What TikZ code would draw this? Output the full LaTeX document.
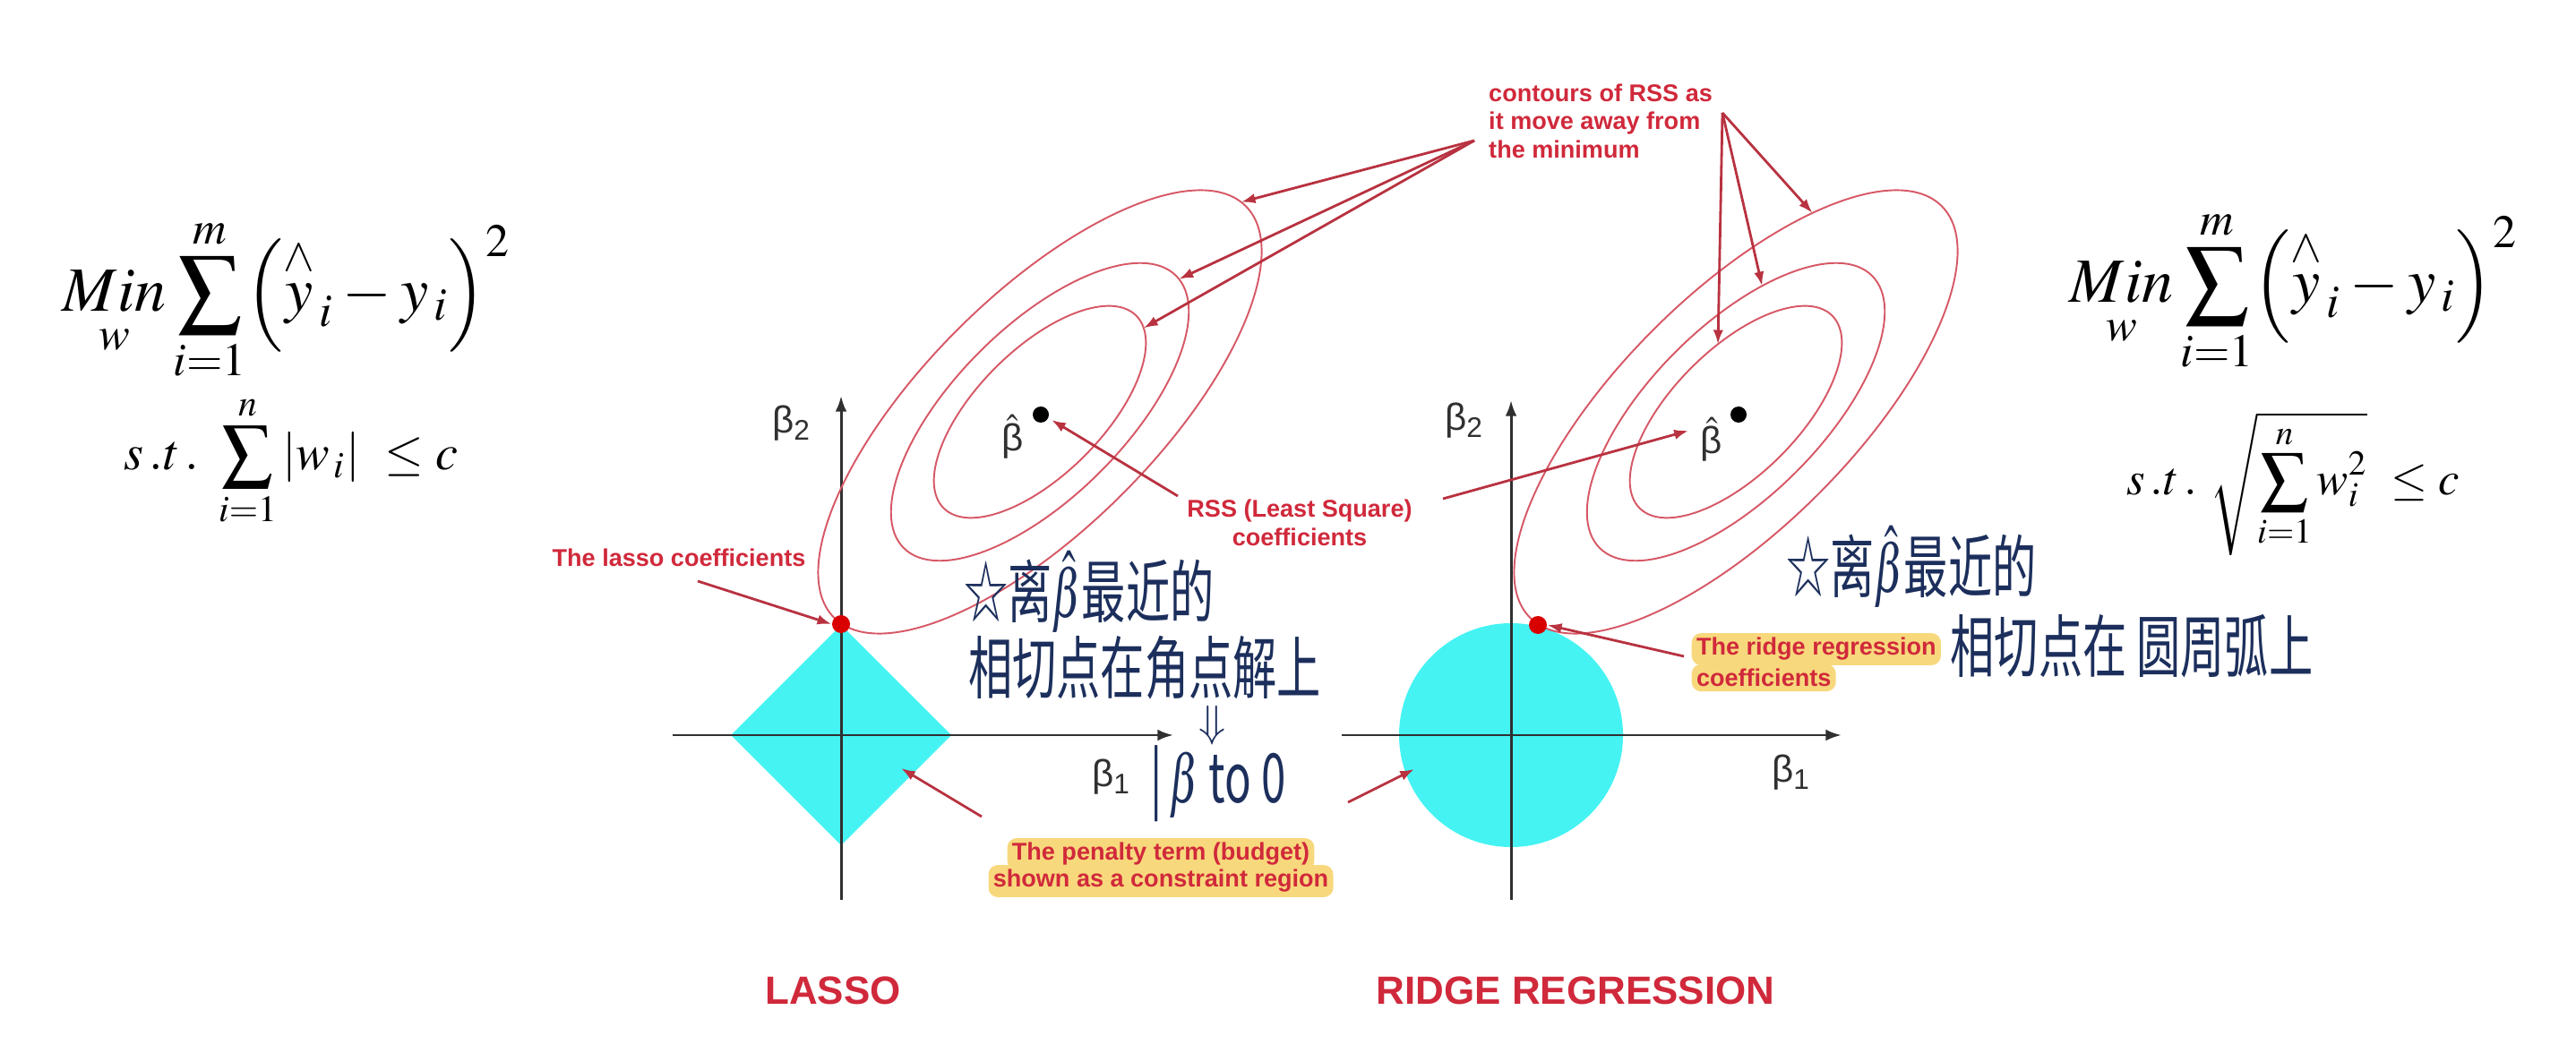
\documentclass[tikz,border=0pt]{standalone}
\usepackage{amsmath}
\usepackage{graphicx}
\usepackage{mathptmx}
\usepackage[no-math]{fontspec}
\setmainfont{Liberation Sans}
\newfontfamily\cjk{Noto Sans CJK SC}
\usetikzlibrary{arrows.meta,calc}
\definecolor{islred}{HTML}{D0293B}
\definecolor{islarrow}{HTML}{B83240}
\definecolor{islcont}{HTML}{D65866}
\definecolor{islcyan}{HTML}{45F3F3}
\definecolor{islhl}{HTML}{F8D87C}
\definecolor{inkblue}{HTML}{1C2F5C}
\definecolor{axgrey}{HTML}{303030}
\newcommand{\hw}[1]{\scalebox{1}[1.55]{#1}}

\begin{document}
\begin{tikzpicture}[
  lbl/.style={font=\fontsize{7.7}{9}\selectfont\bfseries, text=islred, inner sep=1pt},
  hl/.style={lbl, fill=islhl, rounded corners=3pt, inner sep=1.5pt},
  ax/.style={-{Latex[length=5pt,width=3.6pt]}, axgrey, line width=0.85pt},
  pt/.style={-{Latex[length=4.5pt,width=3.2pt]}, islarrow, line width=0.8pt},
  rssline/.style={islcont, line width=0.55pt},
  blbl/.style={font=\fontsize{12}{14}\selectfont, text=axgrey, inner sep=0pt},
  ink/.style={font=\cjk\fontsize{14}{17}\selectfont, text=inkblue, inner sep=0pt},
  panel/.style={font=\fontsize{12.5}{15}\selectfont\bfseries, text=islred},
  obj/.style={inner sep=0pt},
  dot/.style={circle, fill=black, inner sep=0pt, minimum size=1.8mm},
  reddot/.style={circle, fill=red!85!black, inner sep=0pt, minimum size=2mm},
]
\useasboundingbox (0,0) rectangle (28.76,-11.76);

% objectives
\node[obj] (lossL) at (3.20,-3.35) {\fontsize{20}{24}\selectfont
  $\displaystyle \underset{w}{Min}\sum_{i=1}^{m}\Bigl(\overset{\wedge}{y}_{\,i}-y_{\,i}\Bigr)^{2}$};
\node[obj] (consL) at (3.25,-5.15) {\fontsize{16}{19}\selectfont
  $s\,.t\,.\ \displaystyle\sum_{i=1}^{n}\,\lvert w_{\,i}\rvert\ \le c$};
\node[obj] (lossR) at (25.61,-3.25) {\fontsize{20}{24}\selectfont
  $\displaystyle \underset{w}{Min}\sum_{i=1}^{m}\Bigl(\overset{\wedge}{y}_{\,i}-y_{\,i}\Bigr)^{2}$};
\node[obj] (consR) at (25.60,-5.40) {\fontsize{15}{18}\selectfont
  $s\,.t\,.\ \sqrt{\displaystyle\sum_{i=1}^{n}w_{i}^{2}}\ \le c$};

% lasso panel
\fill[islcyan] (9.39,-6.98) -- (10.62,-8.21) -- (9.39,-9.44) -- (8.16,-8.21) -- cycle;
\coordinate (yL0) at (9.39,-10.05);
\coordinate (yL1) at (9.39,-4.42);
\coordinate (xL0) at (7.51,-8.21);
\coordinate (xL1) at (13.10,-8.21);
\draw[ax] (yL0) -- (yL1);
\draw[ax] (xL0) -- (xL1);
\node[blbl] (b2L) at (8.84,-4.73) {β\textsubscript{2}};
\node[blbl] (b1L) at (12.41,-8.68) {β\textsubscript{1}};
\begin{scope}[shift={(11.61,-4.60)}, rotate=45]
  \draw[rssline] (0,0) ellipse (1.52 and 0.70);
  \draw[rssline] (0,0) ellipse (2.15 and 0.95);
  \draw[rssline] (0,0) ellipse (3.25 and 1.30);
  \coordinate (cL1) at (-13:1.52 and 0.70);
  \coordinate (cL2) at (-3:2.15 and 0.95);
  \coordinate (cL3) at (3:3.25 and 1.30);
\end{scope}
\node[dot] (bhatL) at (11.62,-4.63) {};
\node[blbl] (bhL) at (11.31,-4.88) {$\hat{\text{β}}$};
\node[reddot] (tanL) at (9.39,-6.97) {};

% ridge panel
\fill[islcyan] (16.87,-8.21) circle (1.25);
\coordinate (yR0) at (16.87,-10.05);
\coordinate (yR1) at (16.87,-4.47);
\coordinate (xR0) at (14.98,-8.21);
\coordinate (xR1) at (20.56,-8.21);
\draw[ax] (yR0) -- (yR1);
\draw[ax] (xR0) -- (xR1);
\node[blbl] (b2R) at (16.35,-4.70) {β\textsubscript{2}};
\node[blbl] (b1R) at (20.00,-8.63) {β\textsubscript{1}};
\begin{scope}[shift={(19.38,-4.60)}, rotate=45]
  \draw[rssline] (0,0) ellipse (1.52 and 0.70);
  \draw[rssline] (0,0) ellipse (2.15 and 0.95);
  \draw[rssline] (0,0) ellipse (3.25 and 1.30);
  \coordinate (cR1) at (75:1.52 and 0.70);
  \coordinate (cR2) at (56:2.15 and 0.95);
  \coordinate (cR3) at (48:3.25 and 1.30);
\end{scope}
\node[dot] (bhatR) at (19.41,-4.63) {};
\node[blbl] (bhR) at (19.11,-4.91) {$\hat{\text{β}}$};
\node[reddot] (tanR) at (17.17,-6.98) {};

% red labels
\node[lbl, align=left, anchor=west] (contlbl) at (16.58,-1.35)
   {contours of RSS as\\it move away from\\the minimum};
\coordinate (contA) at (16.46,-1.57);
\coordinate (contB) at (19.23,-1.26);
\foreach \c in {cL1,cL2,cL3} \draw[pt] (contA) -- (\c);
\foreach \c in {cR1,cR2,cR3} \draw[pt] (contB) -- (\c);

\node[lbl, align=center] (rsslbl) at (14.51,-5.84) {RSS (Least Square)\\coefficients};
\coordinate (rssA) at (13.15,-5.54);
\coordinate (rssB) at (16.11,-5.57);
\coordinate (rssAt) at (11.74,-4.69);
\coordinate (rssBt) at (18.85,-4.81);
\draw[pt] (rssA) -- (rssAt);
\draw[pt] (rssB) -- (rssBt);

\node[lbl] (lassolbl) at (7.58,-6.23) {The lasso coefficients};
\coordinate (lassoA) at (7.79,-6.49);
\draw[pt] (lassoA) -- (tanL.west);

\node[hl, anchor=west] (ridge1) at (18.88,-7.25) {The ridge regression};
\node[hl, anchor=west] (ridge2) at (18.88,-7.57) {coefficients};
\coordinate (ridgeA) at (18.80,-7.33);
\draw[pt] (ridgeA) -- (tanR.east);

\node[hl] (pen1) at (12.96,-9.54) {The penalty term (budget)};
\node[hl] (pen2) at (12.96,-9.84) {shown as a constraint region};
\coordinate (penA) at (10.96,-9.12);
\coordinate (penB) at (15.05,-8.96);
\coordinate (penAt) at (10.06,-8.58);
\coordinate (penBt) at (15.79,-8.59);
\draw[pt] (penA) -- (penAt);
\draw[pt] (penB) -- (penBt);

\node[panel] (lassot) at (9.30,-11.06) {LASSO};
\node[panel] (ridget) at (17.59,-11.06) {RIDGE REGRESSION};

% handwritten notes
\node[ink] (hwL1) at (12.16,-6.61) {\hw{☆离$\hat{\beta}$最近的}};
\node[ink] (hwL2) at (12.78,-7.46) {\hw{相切点在角点解上}};
\node[ink] (hwL3) at (13.54,-8.10) {$\Downarrow$};
\node[ink] (hwL4) at (13.60,-8.75) {\hw{|\,$\beta$ to 0}};
\node[ink] (hwR1) at (21.34,-6.33) {\hw{☆离$\hat{\beta}$最近的}};
\node[ink] (hwR2) at (23.80,-7.22) {\hw{相切点在\ 圆周弧上}};
\end{tikzpicture}
\end{document}
